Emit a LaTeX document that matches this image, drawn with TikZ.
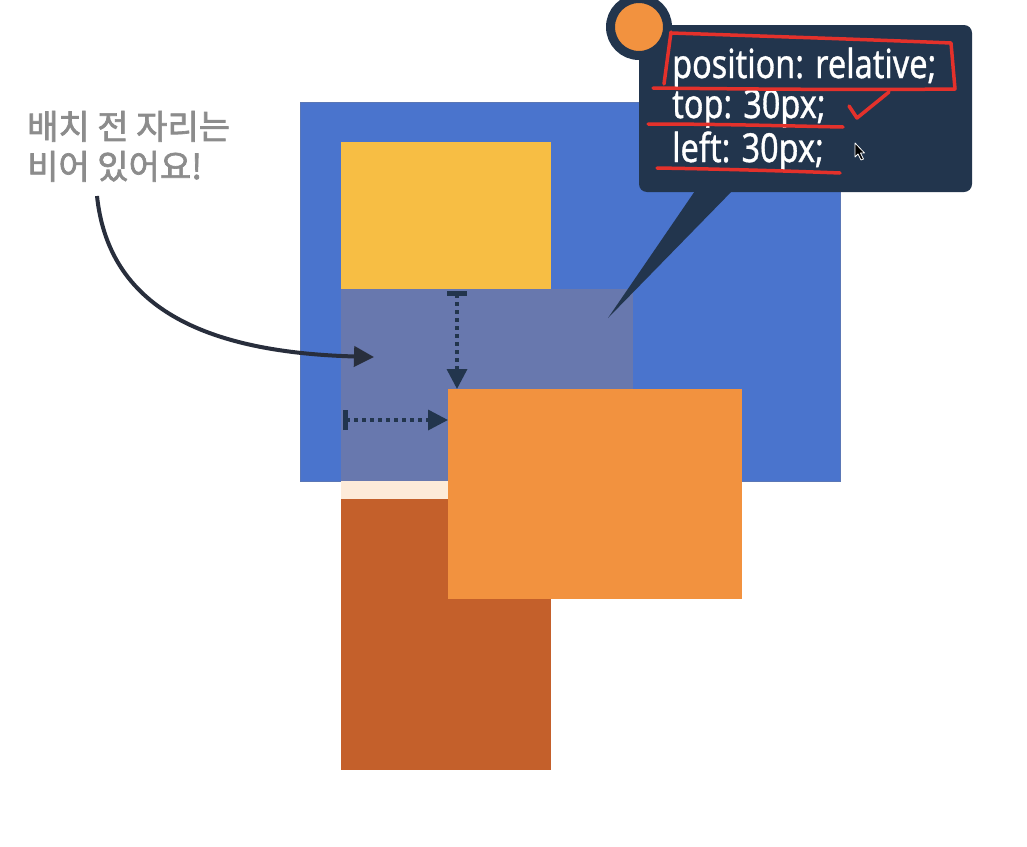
\documentclass[tikz,border=0pt]{standalone}
\usepackage{fontspec}
\usetikzlibrary{arrows.meta}
\newfontfamily\krfont{Noto Sans CJK KR}[FakeBold=2]
\newfontfamily\codefont{Noto Sans}[FakeStretch=0.81,FakeBold=0.8]
\definecolor{cblue}{HTML}{4A74CD}
\definecolor{cyellow}{HTML}{F7BE44}
\definecolor{cplace}{HTML}{6878AE}
\definecolor{cpeach}{HTML}{FDEBD9}
\definecolor{cdark}{HTML}{C4602B}
\definecolor{corange}{HTML}{F2923F}
\definecolor{cnavy}{HTML}{22354D}
\definecolor{carrow}{HTML}{282E3C}
\definecolor{cgray}{HTML}{8C8C8C}
\definecolor{cred}{HTML}{E4312B}
\begin{document}
\begin{tikzpicture}[x=1pt,y=-1pt,
  box/.style={draw=none,inner sep=0pt,outer sep=0pt,anchor=north west},
  dotarrow/.style={draw=cnavy,line width=3.5pt,dash pattern=on 4pt off 4pt,
    {Bar[width=20pt,line width=4.5pt,sep=0pt]}-{Triangle[width=20pt,length=20pt]}},
  redmark/.style={draw=cred,line width=3.5pt,line cap=round,line join=round},
  codetext/.style={text=white,font=\codefont\fontsize{40}{48}\selectfont,anchor=base west,inner sep=0pt},
  krtext/.style={text=cgray,font=\krfont\fontsize{34}{40}\selectfont,anchor=base west,inner sep=0pt}
]
\useasboundingbox (0,0) rectangle (1027,846);
\fill[white] (0,0) rectangle (1027,846);

% boxes
\node[box,fill=cblue,draw=cblue!70!gray,line width=1pt,minimum width=540pt,minimum height=379pt] (blue) at (300,102) {};
\node[box,fill=cyellow,minimum width=210pt,minimum height=147pt] (yellow) at (341,142) {};
\node[box,fill=cplace,minimum width=292pt,minimum height=192pt] (place) at (341,289) {};
\node[box,fill=cpeach,minimum width=107pt,minimum height=18pt] (peach) at (341,481) {};
\node[box,fill=cdark,minimum width=210pt,minimum height=271pt] (darkbox) at (341,499) {};
\node[box,fill=corange,minimum width=294pt,minimum height=210pt] (orangebox) at (448,389) {};

% dotted arrows
\coordinate (vs) at (457,291);
\coordinate (ve) at ([xshift=9pt]orangebox.north west);
\coordinate (hs) at (343,420);
\coordinate (he) at (orangebox.west |- hs);
\draw[dotarrow] (vs) -- (ve);
\draw[dotarrow] (hs) -- (he);

% callout
\coordinate (tip) at (608,318);
\fill[cnavy] (697,188) -- (tip) -- (735,188) -- cycle;
\node[box,fill=cnavy,rounded corners=8pt,minimum width=333pt,minimum height=167pt] (callout) at (639,25) {};
\node[circle,draw=cnavy,line width=9pt,fill=corange,minimum size=57pt,inner sep=0pt] (dot) at (639,27) {};

\node[codetext] (l1) at (672,78) {position: relative;};
\node[codetext] (l2) at (672,118) {top: 30px;};
\node[codetext] (l3) at (672,162) {left: 30px;};

% red marks
\draw[redmark] (671,33) .. controls (760,36) and (880,40) .. (951,43) -- (955,89) .. controls (860,90) and (740,89) .. (653,88);
\draw[redmark] (671,32) -- (664,84);
\draw[redmark] (648,124) .. controls (720,124) and (790,126) .. (843,127);
\draw[redmark] (849,106) -- (857,118) -- (889,92);
\draw[redmark] (657,168) .. controls (720,169) and (790,171) .. (840,173);

% cursor
\filldraw[fill=black,draw=white,line width=0.8pt,line join=round]
  (855,143) -- (855,157) -- (858,154) -- (861,160) -- (863.5,159) -- (860.5,153) -- (864.5,153) -- cycle;

% korean label and arrow
\node[krtext] (k1) at (27,139) {배치 전 자리는};
\node[krtext] (k2) at (27,179) {비어 있어요!};
\coordinate (as) at (97,196);
\coordinate (ae) at (374,357);
\draw[carrow,line width=4pt,-{Triangle[width=20pt,length=20pt]}] (as) .. controls (108,300) and (192,352) .. (ae);
\end{tikzpicture}
\end{document}
